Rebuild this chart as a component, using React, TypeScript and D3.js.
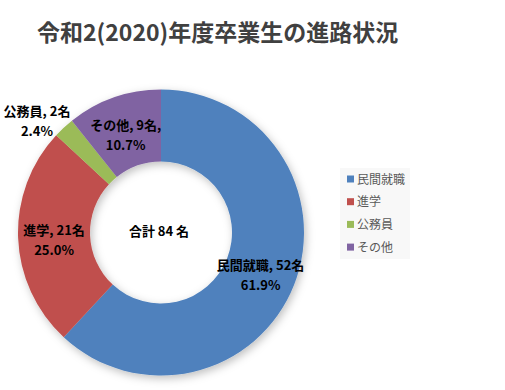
import React, { useEffect, useRef } from 'react';
import * as d3 from 'd3';

const width = 505;
const height = 390;

// chart data
const categories = ['民間就職', '進学', '公務員', 'その他'];
const counts = [52, 21, 2, 9];
const colors = ['#4F81BD', '#C0504D', '#9BBB59', '#8064A2'];
const titleText = '令和2(2020)年度卒業生の進路状況';
const totalLabel = '合計 84 名';

const FONT = '"Noto Sans CJK JP", "Noto Sans", sans-serif';

const App = () => {
    const ref = useRef<SVGSVGElement>(null);

    useEffect(() => {
        if (!ref.current) return;
        const svg = d3.select(ref.current);
        svg.selectAll('*').remove();

        // soft shadow like Excel
        const defs = svg.append('defs');
        const f = defs.append('filter').attr('id', 'shadow')
            .attr('x', '-20%').attr('y', '-20%').attr('width', '140%').attr('height', '140%');
        f.append('feDropShadow')
            .attr('dx', 2).attr('dy', 3).attr('stdDeviation', 4)
            .attr('flood-color', '#000').attr('flood-opacity', 0.25);

        svg.append('rect').attr('width', width).attr('height', height).attr('fill', '#fff');

        svg.append('text')
            .attr('x', 37).attr('y', 41)
            .attr('font-family', FONT)
            .attr('font-size', 23)
            .attr('font-weight', 'bold')
            .attr('fill', '#404040')
            .text(titleText);

        const cx = 161, cy = 232.5;
        const outerR = 143, innerR = 71;
        const total = d3.sum(counts);

        const pie = d3.pie<number>().sort(null).value(d => d);
        const arcs = pie(counts);
        const arc = d3.arc<d3.PieArcDatum<number>>().innerRadius(innerR).outerRadius(outerR);

        const g = svg.append('g').attr('transform', `translate(${cx},${cy})`);
        g.append('g').attr('filter', 'url(#shadow)')
            .selectAll('path')
            .data(arcs)
            .enter()
            .append('path')
            .attr('d', arc)
            .attr('fill', (d, i) => colors[i]);

        // data labels
        const midArc = d3.arc<d3.PieArcDatum<number>>().innerRadius(72).outerRadius(142);
        const outArc = d3.arc<d3.PieArcDatum<number>>().innerRadius(150).outerRadius(150);
        arcs.forEach((d, i) => {
            const share = d.value / total;
            const small = share < 0.05;
            let lx, ly;
            if (small) {
                // outside label, pushed away from the ring
                const [px, py] = outArc.centroid(d);
                lx = px + (px < 0 ? -22 : 22);
                ly = py - 1;
            } else {
                const [px, py] = midArc.centroid(d);
                lx = px;
                ly = py + 4;
            }
            const comma = i === 3 ? ',' : '';
            const t = g.append('text')
                .attr('text-anchor', 'middle')
                .attr('font-family', FONT)
                .attr('font-size', 13)
                .attr('font-weight', 'bold')
                .attr('fill', '#000');
            t.append('tspan').attr('x', lx).attr('y', ly - 6)
                .text(`${categories[i]}, ${counts[i]}名${comma}`);
            t.append('tspan').attr('x', lx).attr('y', ly + 14)
                .text(`${(share * 100).toFixed(1)}%`);
        });

        g.append('text')
            .attr('text-anchor', 'middle')
            .attr('x', -2)
            .attr('y', 3)
            .attr('font-family', FONT)
            .attr('font-size', 13)
            .attr('font-weight', 'bold')
            .attr('fill', '#000')
            .text(totalLabel);

        // legend
        const lg = svg.append('g').attr('transform', 'translate(340,168)');
        lg.append('rect').attr('width', 70).attr('height', 91).attr('fill', '#f8f8f8');
        const item = lg.selectAll('g.item')
            .data(categories)
            .enter()
            .append('g')
            .attr('class', 'item')
            .attr('transform', (d, i) => `translate(7,${11 + i * 22.7})`);
        item.append('rect')
            .attr('x', 0).attr('y', -3.5)
            .attr('width', 7).attr('height', 7)
            .attr('fill', (d, i) => colors[i]);
        item.append('text')
            .attr('x', 10).attr('y', 4.5)
            .attr('font-family', FONT)
            .attr('font-size', 12)
            .attr('fill', '#595959')
            .text(d => d);
    }, []);

    return (
        <svg ref={ref} width={width} height={height}
            style={{ position: 'absolute', left: 0, top: 0, display: 'block' }} />
    );
};

export default App;
